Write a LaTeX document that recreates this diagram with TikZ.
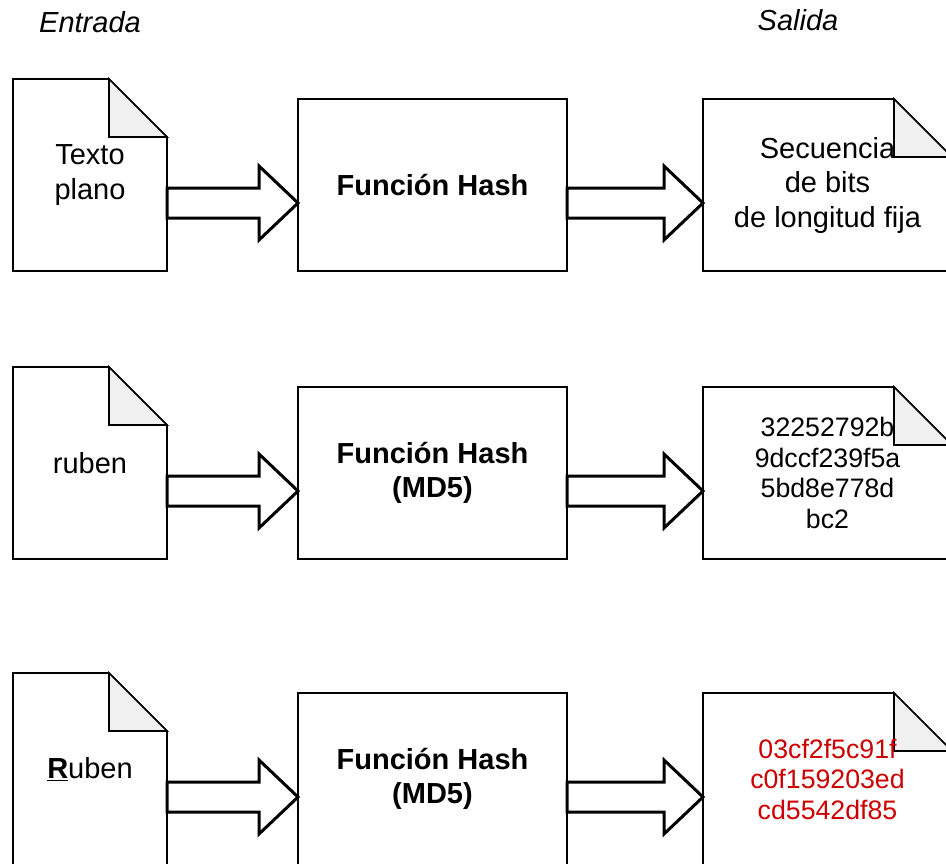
\documentclass[tikz,border=0pt]{standalone}
\usepackage{fontspec}
\setmainfont{Liberation Sans}
\usetikzlibrary{calc,backgrounds}
\definecolor{foldgray}{HTML}{F0F0F0}
\definecolor{hashred}{HTML}{CC0000}

\tikzset{
  docline/.style={draw=black, line width=1.7pt, line join=miter},
  bigtext/.style={font=\fontsize{29}{34.5}\selectfont, align=center, inner sep=0pt},
  smalltext/.style={font=\fontsize{26.7}{30.5}\selectfont, align=center, inner sep=0pt},
  indoc/.style={bigtext, outer sep=0pt, minimum width=154pt, minimum height=192pt},
  outdoc/.style={outer sep=0pt, minimum width=249pt, minimum height=172pt},
  hashbox/.style={bigtext, font=\fontsize{29}{34.5}\selectfont\bfseries, draw=black,
    line width=1.7pt, outer sep=0pt, minimum width=269pt, minimum height=172pt},
  fatarrow/.style={draw=black, fill=white, line width=3pt, line join=miter},
  heading/.style={font=\fontsize{29}{34}\selectfont\itshape, inner sep=0pt},
}

% Sheet of paper with a folded top-right corner, drawn behind the node's text
\newcommand\notedoc[1]{%
  \begin{pgfonlayer}{background}
    \draw[docline, fill=white] (#1.north west) -- ([xshift=-58pt]#1.north east)
      -- ([yshift=-58pt]#1.north east) -- (#1.south east) -- (#1.south west) -- cycle;
    \draw[docline, fill=foldgray] ([xshift=-58pt]#1.north east)
      -- ([xshift=-58pt,yshift=-58pt]#1.north east) -- ([yshift=-58pt]#1.north east) -- cycle;
  \end{pgfonlayer}}

% Wide hollow arrow from #1 to the tip #2
\newcommand\fatarrowpath[2]{%
  \draw[fatarrow] let \p1=(#1), \p2=(#2) in
    (\x1,\y1+15pt) -- (\x2-39pt,\y1+15pt) -- (\x2-39pt,\y1+37pt) -- (\x2,\y1)
    -- (\x2-39pt,\y1-37pt) -- (\x2-39pt,\y1-15pt) -- (\x1,\y1-15pt) -- cycle;}

\begin{document}
\begin{tikzpicture}[x=1pt,y=-1pt]
  \useasboundingbox (0,0) rectangle (946,863);
  \begin{pgfonlayer}{background}
    \fill[white] (0,0) rectangle (946,863);
  \end{pgfonlayer}

  \node[heading] (entrada) at (90,22) {Entrada};
  \node[heading] (salida) at (798,20) {Salida};

  % first row: generic description
  \node[indoc] (in1) at (90,175) {Texto\\plano};
  \node[hashbox] (h1) at (432.5,185) {Función Hash};
  \node[outdoc, bigtext] (out1) at (827.5,185) {Secuencia\\de bits\\de longitud fija};
  \coordinate (r1) at (0,203);

  % second row: MD5 of "ruben"
  \node[indoc] (in2) at (90,463) {ruben};
  \node[hashbox] (h2) at (432.5,473) {Función Hash\\(MD5)};
  \node[outdoc, smalltext] (out2) at (827.5,473) {32252792b\\9dccf239f5a\\5bd8e778d\\bc2};
  \coordinate (r2) at (0,491);

  % third row: MD5 of "Ruben"
  \node[indoc] (in3) at (90,769) {\underline{\textbf{R}}uben};
  \node[hashbox] (h3) at (432.5,779) {Función Hash\\(MD5)};
  \node[outdoc, smalltext, text=hashred] (out3) at (827.5,779) {03cf2f5c91f\\c0f159203ed\\cd5542df85};
  \coordinate (r3) at (0,797);

  \notedoc{in1} \notedoc{out1}
  \notedoc{in2} \notedoc{out2}
  \notedoc{in3} \notedoc{out3}

  \fatarrowpath{in1.east |- r1}{h1.west |- r1}
  \fatarrowpath{h1.east |- r1}{out1.west |- r1}
  \fatarrowpath{in2.east |- r2}{h2.west |- r2}
  \fatarrowpath{h2.east |- r2}{out2.west |- r2}
  \fatarrowpath{in3.east |- r3}{h3.west |- r3}
  \fatarrowpath{h3.east |- r3}{out3.west |- r3}
\end{tikzpicture}
\end{document}
